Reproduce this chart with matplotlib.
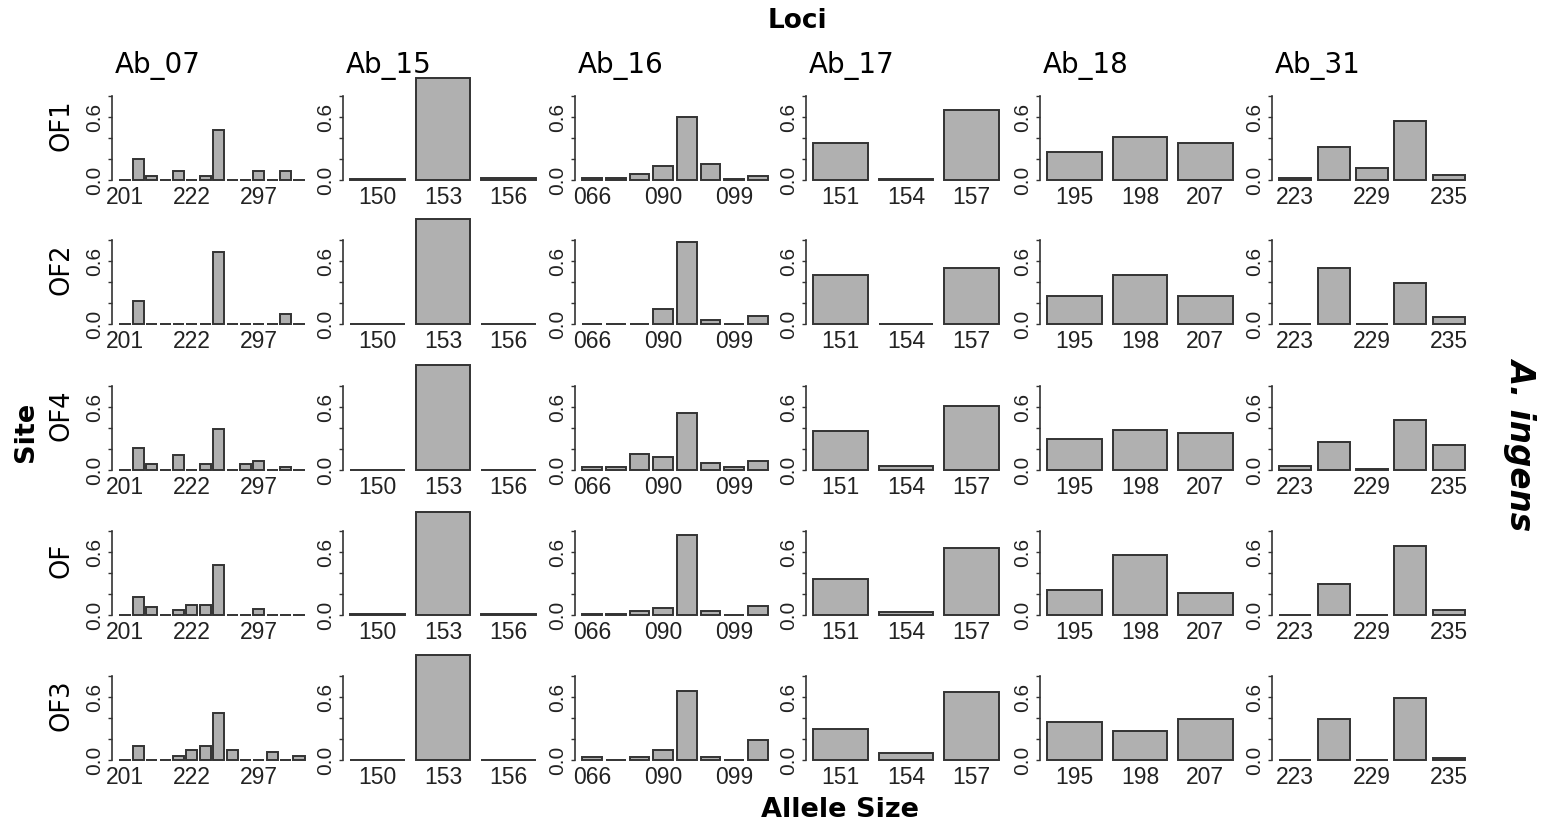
import matplotlib
matplotlib.use("Agg")
import matplotlib.pyplot as plt
import numpy as np

# ---------------- data ----------------
sites = ["OF1", "OF2", "OF4", "OF", "OF3"]
loci = ["Ab_07", "Ab_15", "Ab_16", "Ab_17", "Ab_18", "Ab_31"]

# tick labels (only the labels visible in the original are written)
ab07_labels = ["201", "", "", "", "", "222", "", "", "", "", "297", "", "", ""]
ab15_labels = ["150", "153", "156"]
ab16_labels = ["066", "", "", "090", "", "", "099", ""]
ab17_labels = ["151", "154", "157"]
ab18_labels = ["195", "198", "207"]
ab31_labels = ["223", "", "229", "", "235"]

# allele frequencies, one list per site (OF1, OF2, OF4, OF, OF3)
ab07_freq = [
    [0, 0.20, 0.04, 0, 0.09, 0, 0.04, 0.48, 0, 0, 0.09, 0, 0.09, 0],
    [0, 0.22, 0, 0, 0, 0, 0, 0.69, 0, 0, 0, 0, 0.10, 0],
    [0, 0.21, 0.06, 0, 0.14, 0, 0.06, 0.39, 0, 0.06, 0.09, 0, 0.03, 0],
    [0, 0.17, 0.08, 0, 0.05, 0.10, 0.10, 0.48, 0, 0, 0.06, 0, 0, 0],
    [0, 0.13, 0, 0, 0.04, 0.10, 0.13, 0.45, 0.10, 0, 0, 0.08, 0, 0.04],
]
ab15_freq = [
    [0.01, 0.97, 0.02],
    [0, 1.0, 0],
    [0, 1.0, 0],
    [0.01, 0.98, 0.01],
    [0, 1.0, 0],
]
ab16_freq = [
    [0.02, 0.02, 0.06, 0.13, 0.60, 0.15, 0.01, 0.04],
    [0, 0, 0, 0.14, 0.78, 0.04, 0, 0.08],
    [0.03, 0.03, 0.15, 0.12, 0.54, 0.07, 0.03, 0.09],
    [0.01, 0.01, 0.04, 0.07, 0.76, 0.04, 0, 0.09],
    [0.03, 0, 0.03, 0.10, 0.66, 0.03, 0, 0.19],
]
ab17_freq = [
    [0.35, 0.01, 0.67],
    [0.47, 0, 0.53],
    [0.37, 0.04, 0.61],
    [0.34, 0.03, 0.64],
    [0.30, 0.07, 0.65],
]
ab18_freq = [
    [0.27, 0.41, 0.35],
    [0.27, 0.47, 0.27],
    [0.30, 0.38, 0.35],
    [0.24, 0.57, 0.21],
    [0.36, 0.28, 0.39],
]
ab31_freq = [
    [0.02, 0.31, 0.11, 0.56, 0.05],
    [0, 0.53, 0, 0.39, 0.07],
    [0.04, 0.27, 0.01, 0.48, 0.24],
    [0, 0.30, 0, 0.66, 0.05],
    [0, 0.39, 0, 0.59, 0.02],
]

all_labels = [ab07_labels, ab15_labels, ab16_labels, ab17_labels, ab18_labels, ab31_labels]
all_freq = [ab07_freq, ab15_freq, ab16_freq, ab17_freq, ab18_freq, ab31_freq]

# ---------------- layout ----------------
W, H = 1542, 825
fig = plt.figure(figsize=(W / 100, H / 100), dpi=100)
fig.patch.set_facecolor("white")

col_left = [112, 343, 575, 806, 1040, 1272]
panel_w = 200
row_zero = [180, 324, 470, 615, 760]
panel_h = 84  # pixels for 0.0 .. 0.8

bar_fc = "#b0b0b0"
bar_ec = "#333333"
tick_font = "Liberation Sans"

for r, site in enumerate(sites):
    for c, locus in enumerate(loci):
        left = col_left[c] / W
        bottom = 1 - row_zero[r] / H
        ax = fig.add_axes([left, bottom, panel_w / W, panel_h / H])
        ax.patch.set_alpha(0)
        vals = all_freq[c][r]
        labs = all_labels[c]
        n = len(vals)
        # R barplot geometry: width 1, space 0.2
        centers = 0.2 + 0.5 + 1.2 * np.arange(n)
        ax.bar(centers, vals, width=1.0, color=bar_fc, edgecolor=bar_ec,
               linewidth=1.4, clip_on=False)
        lo, hi = 0.2, 1.2 * n
        pad = 0.04 * (hi - lo)
        ax.set_xlim(lo - pad, hi + pad)
        ax.set_ylim(0, 0.8)
        for s in ["top", "right", "bottom"]:
            ax.spines[s].set_visible(False)
        ax.spines["left"].set_bounds(0, 0.8)
        ax.spines["left"].set_color("#333333")
        ax.spines["left"].set_linewidth(1.2)
        ax.set_yticks([0, 0.2, 0.4, 0.6, 0.8])
        ax.set_yticklabels(["0.0", "", "", "0.6", ""], rotation=90,
                           va="center", family=tick_font, fontsize=15,
                           color="#222222")
        ax.tick_params(axis="y", length=3, width=1.0, pad=3, color="#333333")
        ax.set_xticks(centers)
        ax.set_xticklabels(labs, family=tick_font, fontsize=16.5, color="#222222")
        ax.tick_params(axis="x", length=0, pad=4)
        if c == 0:
            fig.text(62 / W, 1 - (row_zero[r] - 55) / H, site, rotation=90,
                     ha="center", va="center", fontsize=18.5)
        if r == 0:
            fig.text((col_left[c] + 46) / W, 1 - 65 / H, locus,
                     ha="center", va="center", fontsize=20)

fig.text(797 / W, 1 - 21 / H, "Loci", ha="center", va="center",
         fontsize=19, fontweight="bold")
fig.text(840 / W, 1 - 810 / H, "Allele Size", ha="center", va="center",
         fontsize=19.5, fontweight="bold")
fig.text(26 / W, 1 - 432 / H, "Site", ha="center", va="center",
         rotation=90, fontsize=19.5, fontweight="bold")
fig.text(1522 / W, 1 - 443 / H, "A. ingens", ha="center", va="center",
         rotation=270, fontsize=23.5, fontweight="bold", fontstyle="italic")

fig.savefig("out.png", dpi=100, facecolor="white")
